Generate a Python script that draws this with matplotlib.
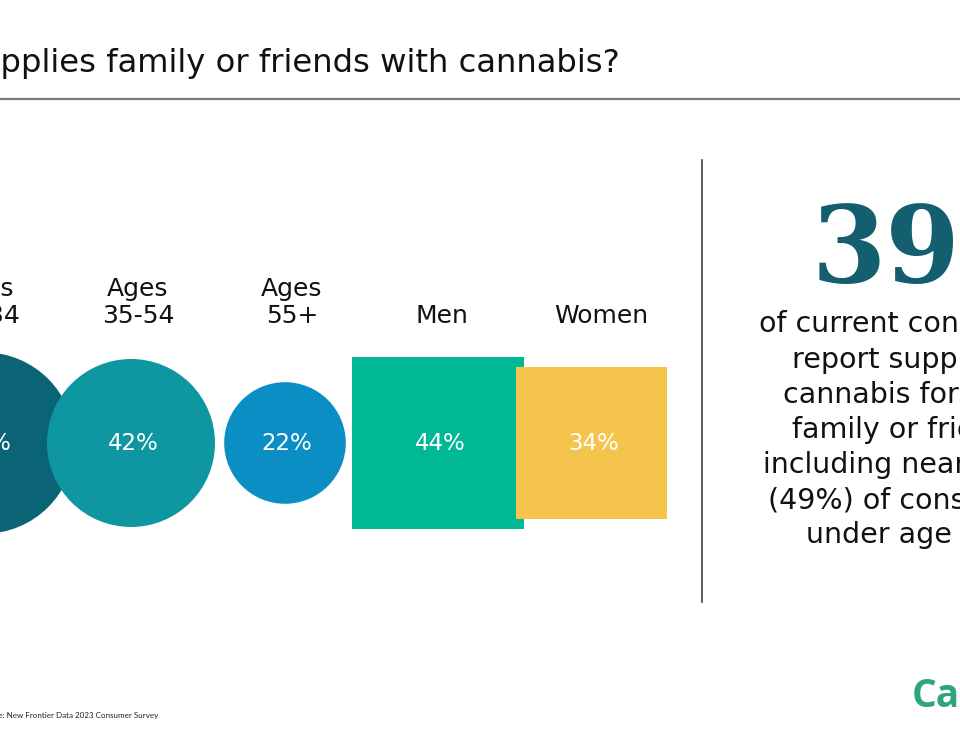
import matplotlib
matplotlib.use("Agg")
import matplotlib.pyplot as plt
from matplotlib.patches import Circle, Rectangle
import numpy as np

# ---- data ----
age_groups = ["Ages\n18-34", "Ages\n35-54", "Ages\n55+"]
age_values = [49, 42, 22]
gender_groups = ["Men", "Women"]
gender_values = [44, 34]
headline_value = 39

title = "Who supplies family or friends with cannabis?"
side_lines = ["of current consumers", "report supplying", "cannabis for their",
              "family or friends,", "including nearly half", "(49%) of consumers",
              "under age 35"]
source = "Source: New Frontier Data 2023 Consumer Survey"

age_colors = ["#0b6476", "#0f97a1", "#0a8ec4"]
gender_colors = ["#00b894", "#f4c44c"]

# ---- layout ----
W, H = 960, 750
fig = plt.figure(figsize=(W / 100, H / 100), dpi=100)
ax = fig.add_axes([0, 0, 1, 1])
ax.set_xlim(0, W)
ax.set_ylim(H, 0)
ax.set_aspect("equal")
ax.axis("off")

FONT = "DejaVu Sans"
cy = 443
circle_k = 84 / np.sqrt(42)
square_k = 172 / np.sqrt(44)

circle_cx = [-16, 131, 285]
age_label_dx = [0, 7, 7]
for lab, v, c, x, dx in zip(age_groups, age_values, age_colors, circle_cx,
                            age_label_dx):
    r = circle_k * np.sqrt(v)
    ax.add_patch(Circle((x, cy), r, color=c, lw=0, zorder=2))
    ax.text(x + 2, cy + 1, f"{v}%", ha="center", va="center", color="white",
            fontsize=16.5, family=FONT, zorder=5)
    ax.text(x + dx, 323, lab, ha="center", va="baseline", fontsize=18,
            family=FONT, linespacing=1.15, color="#111111")

square_left = [352, 516]
label_dx = [4, 10]
for lab, v, c, x0, dx in zip(gender_groups, gender_values, gender_colors,
                             square_left, label_dx):
    s = square_k * np.sqrt(v)
    ax.add_patch(Rectangle((x0, cy - s / 2), s, s, color=c, lw=0, zorder=3))
    ax.text(x0 + s / 2 + 2, cy + 1, f"{v}%", ha="center", va="center",
            color="white", fontsize=16.5, family=FONT, zorder=5)
    ax.text(x0 + s / 2 + dx, 323, lab, ha="center", va="baseline", fontsize=18,
            family=FONT, color="#111111")

# title & rule
ax.text(620, 72, title, ha="right", va="baseline", fontsize=23.2, family=FONT,
        color="#111111")
ax.plot([0, W], [99, 99], color="#7a7a7a", lw=1.6, solid_capstyle="butt")

# divider
ax.plot([702, 702], [160, 602], color="#444444", lw=1.2)

# headline number
ax.text(812, 282, f"{headline_value}%", ha="left", va="baseline", fontsize=77,
        family="DejaVu Serif", weight="bold", color="#135f70")

side_x = [759, 792, 783, 792, 763, 768, 806]
baselines = [332, 368, 403, 438, 473, 508, 543]
for t, x, y in zip(side_lines, side_x, baselines):
    ax.text(x, y, t, ha="left", va="baseline", fontsize=20.5, family=FONT,
            color="#111111")

ax.text(158, 718, source, ha="right", va="baseline", fontsize=5.8,
        family="Lato", color="#222222")

ax.text(912, 707, "Canna", ha="left", va="baseline", fontsize=28,
        family="Open Sans", weight="bold", color="#2fa57b")

fig.savefig("out.png", dpi=100)
